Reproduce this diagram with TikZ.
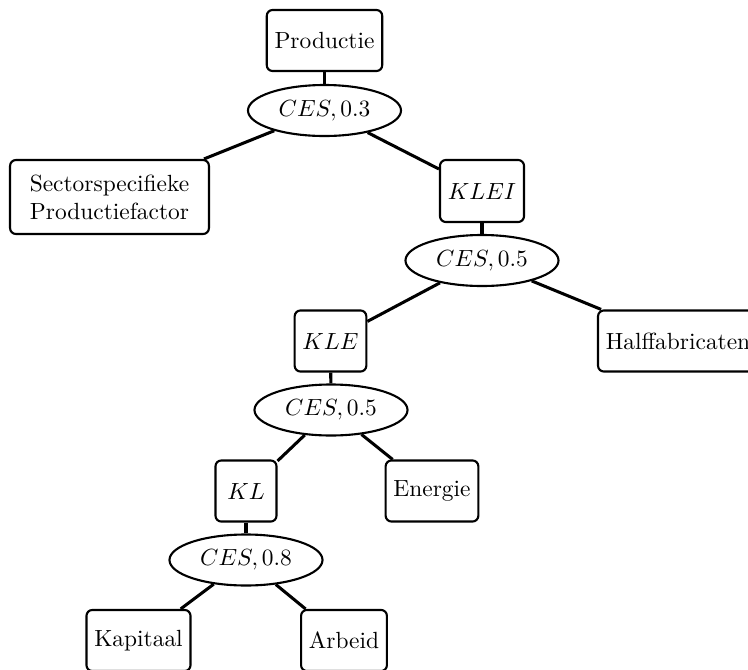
\documentclass[tikz,border=0pt]{standalone}
\usetikzlibrary{shapes.geometric}
\begin{document}
\begin{tikzpicture}[x=0.42735pt,y=-0.42735pt,
  box/.style={draw,rounded corners=2.5pt,line width=0.9pt,minimum height=26.1pt,inner sep=3.33pt},
  ces/.style={draw,ellipse,line width=0.9pt,minimum width=65.4pt,minimum height=21.8pt,inner sep=0pt},
  conn/.style={line width=1.3pt}]
\useasboundingbox (0,0) rectangle (748,670);
\node[box] (prod) at (324.5,40.5) {Productie};
\node[ces] (ces1) at (324.5,110.5) {$CES, 0.3$};
\node[box,minimum width=85pt,minimum height=31.6pt,align=center] (sect) at (109.5,197) {Sectorspecifieke\\Productiefactor};
\node[box,minimum width=35.9pt,minimum height=26.5pt] (klei) at (482,191) {$KLEI$};
\node[ces] (ces2) at (482,260.5) {$CES, 0.5$};
\node[box,minimum width=30.3pt] (kle) at (330.5,341) {$KLE$};
\node[box,anchor=west] (half) at (597,341) {Halffabricaten};
\node[ces] (ces3) at (331,410) {$CES, 0.5$};
\node[box,minimum width=26.1pt] (kl) at (246,491) {$KL$};
\node[box] (ener) at (432,491) {Energie};
\node[ces] (ces4) at (246,560) {$CES, 0.8$};
\node[box] (kap) at (138.5,640.5) {Kapitaal};
\node[box] (arb) at (344,640.5) {Arbeid};
\draw[conn] (prod) -- (ces1);
\draw[conn] (ces1) -- (sect);
\draw[conn] (ces1) -- (klei);
\draw[conn] (klei) -- (ces2);
\draw[conn] (ces2) -- (kle);
\draw[conn] (ces2) -- (half);
\draw[conn] (kle) -- (ces3);
\draw[conn] (ces3) -- (kl);
\draw[conn] (ces3) -- (ener);
\draw[conn] (kl) -- (ces4);
\draw[conn] (ces4) -- (kap);
\draw[conn] (ces4) -- (arb);
\end{tikzpicture}
\end{document}
